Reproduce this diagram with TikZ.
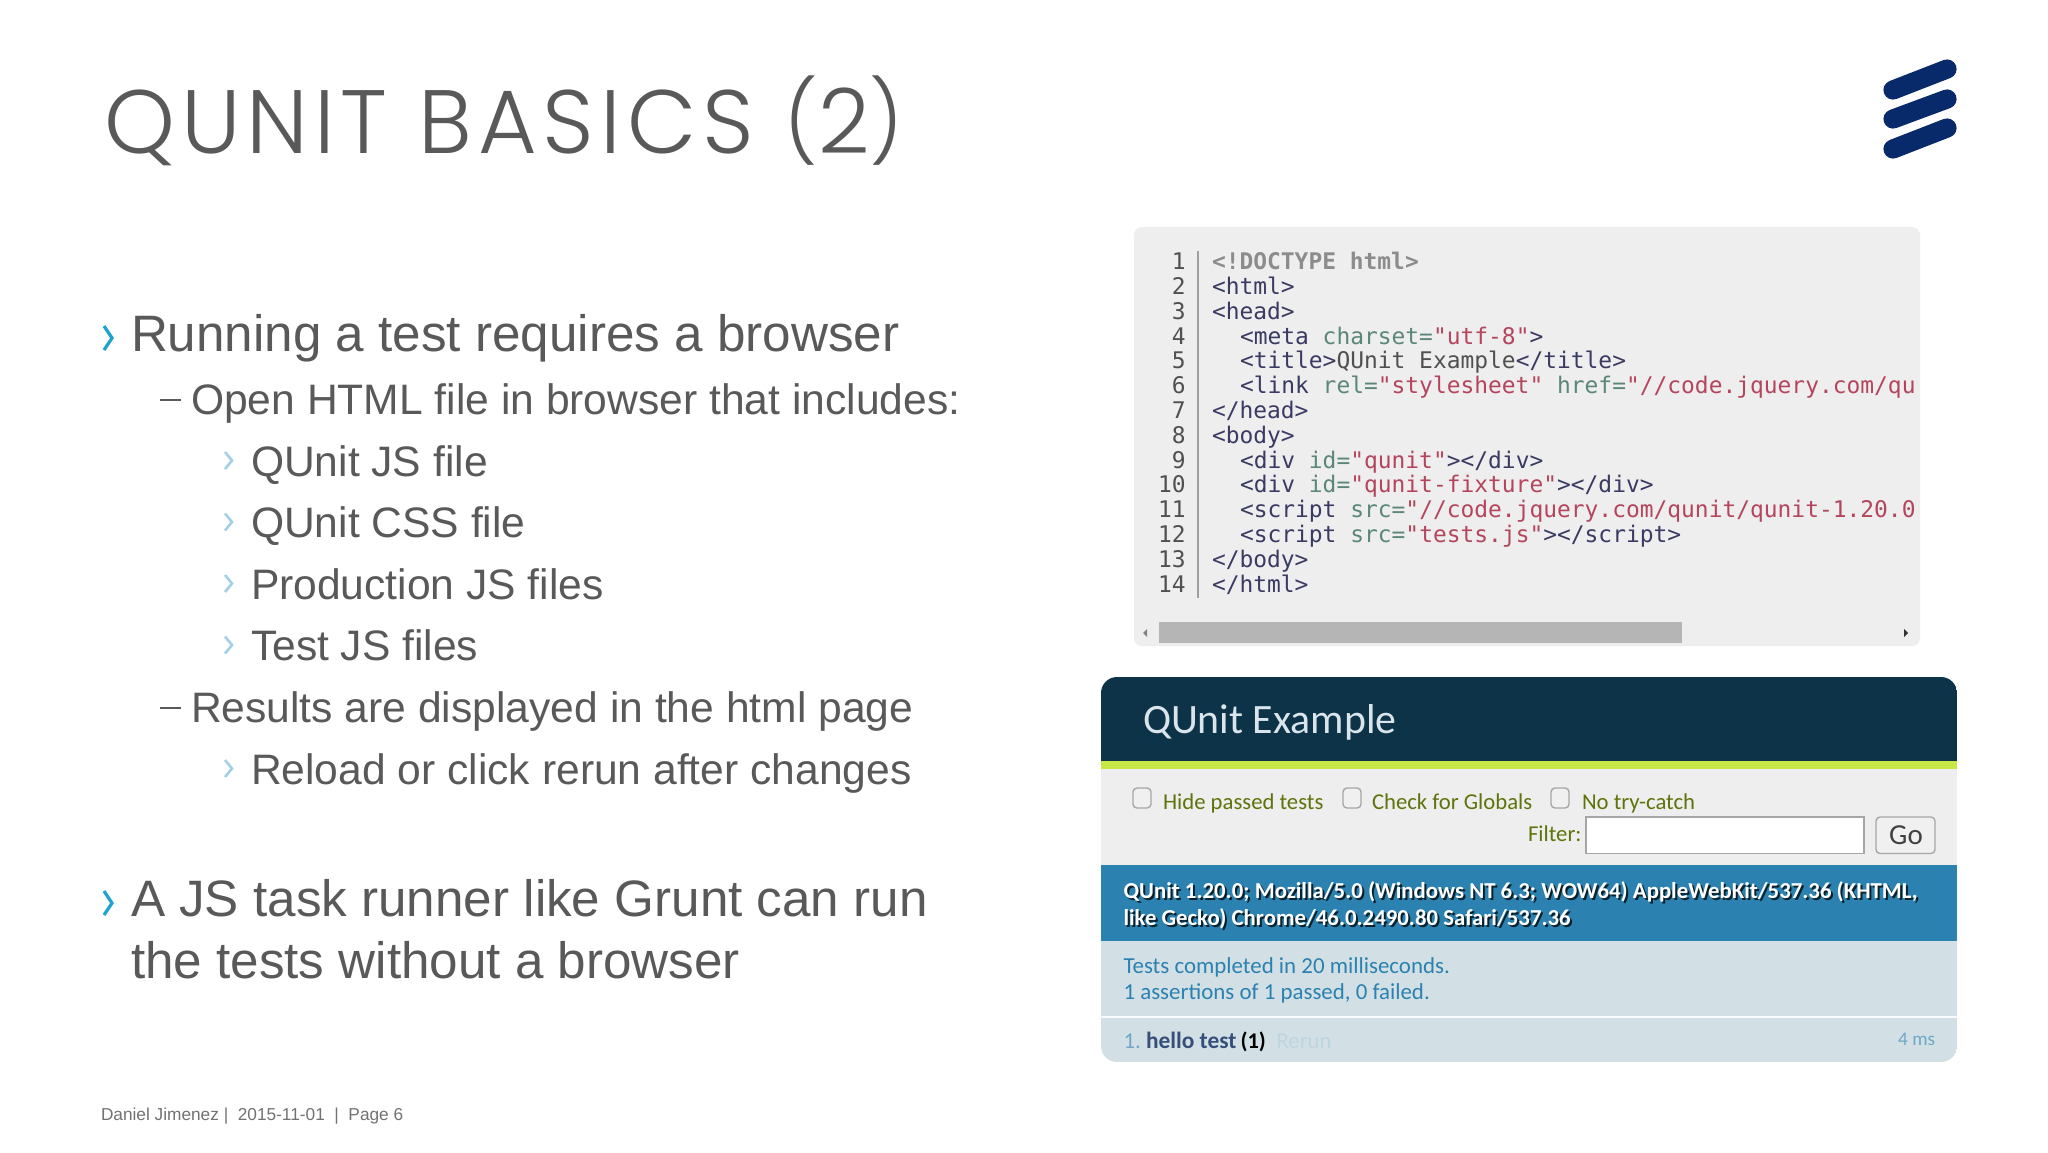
\documentclass[tikz,border=0pt]{standalone}
\usepackage{fontspec}
\setmainfont{Liberation Sans}
\newfontfamily\ttlfont{Poppins}[UprightFont=* Light,LetterSpace=6.7]
\newfontfamily\codefont{DejaVu Sans Mono}
\newfontfamily\qfont{Carlito}
\definecolor{body}{HTML}{595959}
\definecolor{chevA}{HTML}{1EA3CF}
\definecolor{chevB}{HTML}{A3D0E4}
\definecolor{logoc}{HTML}{08296A}
\definecolor{codebg}{HTML}{EEEEEF}
\definecolor{ctag}{HTML}{3A3A62}
\definecolor{cattr}{HTML}{5A8778}
\definecolor{cstr}{HTML}{B5455C}
\definecolor{cnum}{HTML}{505050}
\definecolor{qdark}{HTML}{0D3349}
\definecolor{qgreen}{HTML}{C6E746}
\definecolor{qtool}{HTML}{EEEEEE}
\definecolor{qolive}{HTML}{5E740B}
\definecolor{qblue}{HTML}{2B81AF}
\definecolor{qlight}{HTML}{D2E0E6}
\newcommand{\At}[1]{\textcolor{cattr}{#1}}
\newcommand{\St}[1]{\textcolor{cstr}{#1}}
\newcommand{\Par}[1]{\raisebox{1.3pt}{\fontsize{40}{40}\selectfont #1}}
\tikzset{
  x=0.5pt,y=-0.5pt,
  txt/.style={anchor=base west,inner sep=0pt,outer sep=0pt},
  lvlA/.style={txt,text=body,font=\fontsize{25.6}{30}\selectfont},
  lvlB/.style={txt,text=body,font=\fontsize{21.3}{26}\selectfont},
  lvlC/.style={txt,text=body,font=\fontsize{21.3}{26}\selectfont},
  chevbig/.style={draw=chevA,line width=1.6pt,line join=miter},
  chevsmall/.style={draw=chevB,line width=1.3pt,line join=miter},
  dashmark/.style={draw=body,line width=1.1pt},
  codeline/.style={txt,font=\codefont\fontsize{11.45}{14}\selectfont,text=ctag},
  numline/.style={anchor=base east,inner sep=0pt,font=\codefont\fontsize{11.45}{14}\selectfont,text=cnum},
  logobar/.style={draw=logoc,line width=9.6pt,line cap=round},
  qtext/.style={txt,font=\qfont\fontsize{11.35}{14}\selectfont},
  qbanner/.style={txt,font=\qfont\bfseries\fontsize{11.4}{14}\selectfont,text=white},
  chk/.style={draw=black!35,fill=black!6,line width=0.7pt,rounded corners=2},
}
\begin{document}
\begin{tikzpicture}
\useasboundingbox (0,0) rectangle (2048,1152);
\fill[white] (0,0) rectangle (2048,1152);
% title
\node[txt,font=\ttlfont\fontsize{45}{50}\selectfont,text=body] (title) at (104,153) {QUNIT BASICS \Par{(}2\Par{)}};
% logo
\draw[logobar] (1893,90) -- (1947,69);
\draw[logobar] (1893,119) -- (1947,99);
\draw[logobar] (1893,149) -- (1947,128);
% bullets
\draw[chevbig] (104,326) -- (112,338) -- (104,350);
\node[lvlA] (t1) at (131,351) {Running a test requires a browser};
\draw[dashmark] (160,400) -- (181,400);
\node[lvlB] (t2) at (191,414.5) {Open HTML file in browser that includes:};
\foreach \yy/\nm/\lab in {476/t3/QUnit JS file,537.5/t4/QUnit CSS file,599/t5/Production JS files,660.5/t6/Test JS files,784/t8/Reload or click rerun after changes}{
  \draw[chevsmall] (225,\yy-24) -- (232,\yy-15.5) -- (225,\yy-7);
  \node[lvlC] (\nm) at (251,\yy) {\lab};
}
\draw[dashmark] (160,708) -- (181,708);
\node[lvlB] (t7) at (191,722.8) {Results are displayed in the html page};
\draw[chevbig] (104,891) -- (112,903) -- (104,915);
\node[lvlA] (t9) at (131,916.5) {A JS task runner like Grunt can run};
\node[lvlA] (t10) at (131,978) {the tests without a browser};
% footer
\node[txt,text=body!85,font=\fontsize{8.63}{11}\selectfont] (foot) at (101,1120.5) {Daniel Jimenez |\ \ 2015-11-01\ \ |\ \ Page 6};
% code panel
\fill[codebg,rounded corners=4] (1134,227) rectangle (1920,646);
\draw[cnum!55,line width=0.8pt] (1198,251) -- (1198,598);
\foreach \n in {1,...,14}{
  \node[numline] (n\n) at (1186,{269.7+24.8*(\n-1)}) {\n};
}
\node[codeline,text=black!45,font=\codefont\bfseries\fontsize{11.45}{14}\selectfont] (c1) at (1212,269.7) {<!DOCTYPE html>};
\node[codeline] (c2) at (1212,294.5) {<html>};
\node[codeline] (c3) at (1212,319.3) {<head>};
\node[codeline] (c4) at (1240,344.1) {<meta \At{charset=}\St{"utf-8"}>};
\node[codeline] (c5) at (1240,368.9) {<title>\textcolor{cnum}{QUnit Example}</title>};
\node[codeline] (c6) at (1240,393.7) {<link \At{rel=}\St{"stylesheet"} \At{href=}\St{"//code.jquery.com/qu}};
\node[codeline] (c7) at (1212,418.5) {</head>};
\node[codeline] (c8) at (1212,443.3) {<body>};
\node[codeline] (c9) at (1240,468.1) {<div \At{id=}\St{"qunit"}></div>};
\node[codeline] (c10) at (1240,492.9) {<div \At{id=}\St{"qunit-fixture"}></div>};
\node[codeline] (c11) at (1240,517.7) {<script \At{src=}\St{"//code.jquery.com/qunit/qunit-1.20.0}};
\node[codeline] (c12) at (1240,542.5) {<script \At{src=}\St{"tests.js"}></script>};
\node[codeline] (c13) at (1212,567.3) {</body>};
\node[codeline] (c14) at (1212,592.1) {</html>};
% scrollbar
\fill[black!29] (1159,622) rectangle (1682,643);
\fill[black!50] (1147,629) -- (1147,637) -- (1143,633) -- cycle;
\fill[black!80] (1904,629) -- (1904,637) -- (1908,633) -- cycle;
% qunit panel
\begin{scope}
\clip[rounded corners=8] (1101,677) rectangle (1957,1062);
\fill[qdark] (1101,677) rectangle (1957,761);
\fill[qgreen] (1101,761) rectangle (1957,769);
\fill[qtool] (1101,769) rectangle (1957,865);
\fill[qblue] (1101,865) rectangle (1957,941);
\fill[qlight] (1101,941) rectangle (1957,1016);
\fill[white!85!qlight] (1101,1016) rectangle (1957,1018);
\fill[qlight] (1101,1018) rectangle (1957,1062);
\end{scope}
\node[txt,text=qlight!85!white,font=\qfont\fontsize{20.9}{24}\selectfont] (qt) at (1143,733) {QUnit Example};
\draw[chk] (1133,788) rectangle (1151,808);
\draw[chk] (1343,788) rectangle (1361,808);
\draw[chk] (1551,788) rectangle (1569,808);
\node[qtext,text=qolive] (q1) at (1163,809.5) {Hide passed tests};
\node[qtext,text=qolive] (q2) at (1372,809.5) {Check for Globals};
\node[qtext,text=qolive] (q3) at (1582,809.5) {No try-catch};
\node[qtext,text=qolive] (q4) at (1528,841.5) {Filter:};
\draw[draw=black!35,fill=white,line width=0.7pt] (1586,817) rectangle (1864,853.5);
\draw[draw=black!35,fill=black!6,line width=0.7pt,rounded corners=2] (1876,817) rectangle (1935,853.5);
\node[inner sep=0pt,font=\qfont\fontsize{14.5}{16}\selectfont,text=black!75] (go) at (1906,835) {Go};
\node[qbanner,text=black,opacity=0.75] (qb1s) at (1125.5,900.5) {QUnit 1.20.0; Mozilla/5.0 (Windows NT 6.3; WOW64) AppleWebKit/537.36 (KHTML,};
\node[qbanner,text=black,opacity=0.75] (qb2s) at (1125.5,927.5) {like Gecko) Chrome/46.0.2490.80 Safari/537.36};
\node[qbanner] (qb1) at (1123.5,898.5) {QUnit 1.20.0; Mozilla/5.0 (Windows NT 6.3; WOW64) AppleWebKit/537.36 (KHTML,};
\node[qbanner] (qb2) at (1123.5,925.5) {like Gecko) Chrome/46.0.2490.80 Safari/537.36};
\node[qtext,text=qblue,font=\qfont\fontsize{11.45}{14}\selectfont] (qr1) at (1123.5,973.4) {Tests completed in 20 milliseconds.};
\node[qtext,text=qblue,font=\qfont\fontsize{11.45}{14}\selectfont] (qr2) at (1123.5,999.4) {1 assertions of 1 passed, 0 failed.};
\node[qtext,text=qblue!60!qlight] (qn) at (1123.5,1048.4) {1.};
\node[qtext,text=ctag!70!qblue,font=\qfont\bfseries\fontsize{11.7}{14}\selectfont] (qh) at (1146,1048.4) {hello test};
\node[qtext,text=black,font=\qfont\bfseries\fontsize{11.2}{14}\selectfont] (qc) at (1240.5,1048.4) {(1)};
\node[qtext,text=qblue!12!qlight] (qre) at (1276.5,1048.4) {Rerun};
\node[anchor=base east,inner sep=0pt,font=\qfont\fontsize{9.6}{12}\selectfont,text=qblue!70] (qms) at (1935.5,1045.4) {4 ms};
\end{tikzpicture}
\end{document}
